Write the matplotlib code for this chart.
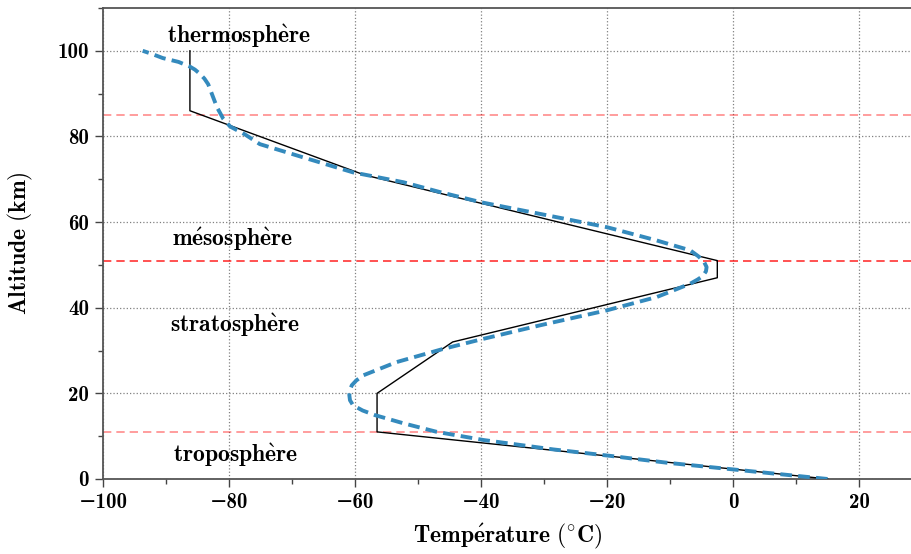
import numpy as np
import matplotlib
matplotlib.use('Agg')
import matplotlib.pyplot as plt
from matplotlib.ticker import MultipleLocator, FuncFormatter

plt.rcParams['mathtext.fontset'] = 'cm'
plt.rcParams['mathtext.default'] = 'bf'
plt.rcParams['font.family'] = ['cmb10', 'DejaVu Serif']

# Standard atmosphere profile (black line)
std_alt = [0, 11, 20, 32, 47, 51, 71, 86, 100]
std_temp = [15, -56.5, -56.5, -44.5, -2.5, -2.5, -58.5, -86.2, -86.2]

# Smoothed profile (blue dashed)
fit_alt = [0, 3.8, 5.4, 6.9, 9.1, 11.0, 13.0, 14.9, 16.0, 17.2, 18.4, 19.6,
           20.8, 21.9, 23.0, 24.2, 27.3, 30.3, 32.6, 35.9, 39.4, 42.5, 45.6,
           46.6, 47.4, 48.5, 49.5, 50.7, 52.0, 53.4, 55.7, 58.8, 61.9, 64.6,
           67.0, 69.3, 71.6, 75.1, 78.2, 80.5, 82.3, 84.1, 86.8, 89.1, 92.2,
           93.5, 94.6, 95.6, 96.3, 97.4, 98.3, 99.3, 100]
fit_temp = [15, -10.5, -19.5, -28.5, -39.6, -47.0, -52.3, -56.8, -58.8, -60.3,
            -60.8, -60.9, -60.8, -60.5, -59.8, -58.7, -53.4, -46.2, -40.0,
            -30.6, -20.0, -12.1, -6.8, -5.6, -4.8, -4.3, -4.2, -4.6, -5.5,
            -6.8, -12.1, -20.0, -30.6, -39.9, -46.5, -52.3, -60.3, -68.2,
            -75.1, -77.5, -79.8, -80.9, -81.9, -82.5, -83.3, -83.9, -84.6,
            -85.4, -86.2, -88.0, -90.5, -92.3, -93.7]

# Layer boundaries and names
bounds = [11, 51, 85]
bound_alpha = [0.45, 0.8, 0.45]
layer_names = [r'$troposph\grave{e}re$', r'$stratosph\grave{e}re$',
               r'$m\acute{e}sosph\grave{e}re$', r'$thermosph\grave{e}re$']
layer_x = [-79, -79, -79.5, -78.5]
layer_y = [4.0, 34.3, 54.4, 101.9]

fig = plt.figure(figsize=(9.12, 5.54), dpi=100)
ax = fig.add_axes([0.1129, 0.1354, 0.8871, 0.8502])

for b, a in zip(bounds, bound_alpha):
    ax.axhline(b, color='red', lw=1.2, ls=(0, (5, 3)), alpha=a, zorder=1)

ax.plot(std_temp, std_alt, color='black', lw=1.0, zorder=3)
ax.plot(fit_temp, fit_alt, color='#348ABD', lw=2.8, ls=(0, (3, 1.6)), zorder=4)

for name, x, y in zip(layer_names, layer_x, layer_y):
    ax.text(x, y, name, ha='center', va='baseline', fontsize=17)

ax.set_xlim(-100, 28.4)
ax.set_ylim(0, 110)
ax.xaxis.set_major_locator(MultipleLocator(20))
ax.xaxis.set_minor_locator(MultipleLocator(10))
ax.yaxis.set_major_locator(MultipleLocator(20))
ax.yaxis.set_minor_locator(MultipleLocator(10))
ax.set_yticks(np.arange(0, 101, 20))
fmt = FuncFormatter(lambda v, pos: ('%d' % v).replace('-', '\u2212'))
ax.xaxis.set_major_formatter(fmt)
ax.yaxis.set_major_formatter(fmt)

ax.grid(True, which='major', ls=':', color='gray', lw=0.9)
ax.set_axisbelow(True)
ax.tick_params(which='major', direction='out', length=6, width=1.0,
               labelsize=15, color='#444444', pad=4)
ax.tick_params(which='minor', direction='out', length=3.5, width=1.0,
               color='#444444')
ax.spines['right'].set_visible(False)
for s in ['left', 'bottom', 'top']:
    ax.spines[s].set_color('#555555')
    ax.spines[s].set_linewidth(1.3)

ax.set_xlabel(r'$Temp\acute{e}rature\ ({}^{\circ}C)$', fontsize=17, labelpad=7)
ax.set_ylabel(r'$Altitude\ (km)$', fontsize=17)
ax.yaxis.set_label_coords(-0.084, 0.5)

fig.savefig('out.png', dpi=100)
